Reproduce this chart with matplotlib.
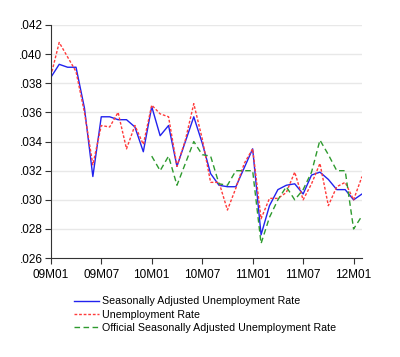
import matplotlib
matplotlib.use('Agg')
import matplotlib.pyplot as plt

# monthly data 09M01 .. 12M02
months = list(range(38))
tick_pos = [0, 6, 12, 18, 24, 30, 36]
tick_labels = ['09M01', '09M07', '10M01', '10M07', '11M01', '11M07', '12M01']

sa_rate = [.0384, .0393, .0391, .0391, .0363, .0316, .0357, .0357, .0355, .0355,
           .0350, .0333, .0364, .0344, .0351, .0323, .0340, .0357, .0339, .0318,
           .0310, .0309, .0309, .0322, .0335, .0276, .0296, .0307, .0310, .0311,
           .0304, .0317, .0319, .0314, .0307, .0307, .0300, .0304]
rate = [.0385, .0408, .0398, .0388, .0360, .0324, .0351, .0350, .0360, .0335,
        .0351, .0338, .0365, .0359, .0357, .0323, .0341, .0366, .0342, .0312,
        .0312, .0293, .0308, .0325, .0335, .0287, .0301, .0301, .0305, .0319,
        .0300, .0311, .0325, .0296, .0309, .0312, .0300, .0316]
official = [None] * 12 + [.0330, .0320, .0330, .0310, .0325, .0340, .0331, .0330,
                          .0311, .0310, .0320, .0320, .0320, .0270, .0288, .0300,
                          .0309, .0300, .0307, .0319, .0341, .0331, .0320, .0320,
                          .0280, .0289]

y_ticks = [.026, .028, .030, .032, .034, .036, .038, .040, .042]

plt.rcParams['font.family'] = ['Liberation Sans', 'DejaVu Sans']

fig = plt.figure(figsize=(4.0, 3.57), dpi=100)
ax = fig.add_axes([0.127, 0.277, 0.778, 0.653])

off_x = [m for m, v in zip(months, official) if v is not None]
off_y = [v for v in official if v is not None]

ax.plot(months, sa_rate, color='#2222ee', lw=1.0, label='Seasonally Adjusted Unemployment Rate')
ax.plot(months, rate, color='#ff3b3b', lw=1.0, ls=(0, (2, 1.3)), label='Unemployment Rate')
ax.plot(off_x, off_y, color='#2e9a2e', lw=1.0, ls=(0, (4, 2.5)),
        label='Official Seasonally Adjusted Unemployment Rate')

ax.set_xlim(0, 37)
ax.set_ylim(.026, .042)
ax.set_yticks(y_ticks)
ax.set_yticklabels(['.%03d' % round(v * 1000) for v in y_ticks])
ax.set_xticks(tick_pos)
ax.set_xticklabels(tick_labels)
ax.tick_params(labelsize=8.5, color='#333333', length=4, width=0.8, pad=2)
ax.tick_params(axis='x', pad=4)
for y in y_ticks[1:]:
    ax.axhline(y, color='#e8e8e8', lw=1.0, zorder=0)

ax.spines['top'].set_visible(False)
ax.spines['right'].set_visible(False)
ax.spines['left'].set_color('#333333')
ax.spines['bottom'].set_color('#333333')

fig.legend(loc='upper left', bbox_to_anchor=(0.172, 0.185), frameon=False,
           fontsize=7.7, handlelength=2.3, handletextpad=0.3, labelspacing=0.3,
           borderpad=0)

fig.savefig('out.png', dpi=100)
